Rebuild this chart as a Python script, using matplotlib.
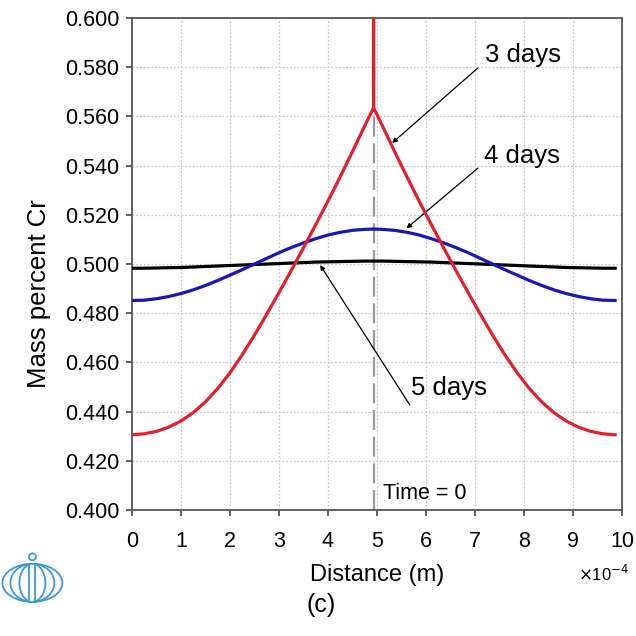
import numpy as np
import matplotlib
matplotlib.use("Agg")
import matplotlib.pyplot as plt
from matplotlib.patches import Ellipse, Circle, Rectangle

plt.rcParams['font.family'] = ['Liberation Sans', 'DejaVu Sans']

# distance in units of 1e-4 m, left half of each profile (curves are symmetric)
x_half = [0.0, 0.25, 0.5, 0.75, 1.0, 1.25, 1.5, 1.75, 2.0, 2.25, 2.5,
          2.75, 3.0, 3.25, 3.5, 3.75, 4.0, 4.25, 4.5, 4.75, 4.93]
red_half = [0.4306, 0.4310, 0.4320, 0.4337, 0.4362, 0.4396, 0.4440, 0.4494, 0.4558, 0.4631, 0.4711,
            0.4796, 0.4884, 0.4974, 0.5066, 0.5160, 0.5256, 0.5355, 0.5457, 0.5562, 0.5635]
blue_half = [0.4852, 0.4853, 0.4859, 0.4868, 0.4880, 0.4895, 0.4913, 0.4933, 0.4955, 0.4977, 0.5000,
             0.5023, 0.5046, 0.5067, 0.5086, 0.5103, 0.5118, 0.5129, 0.5137, 0.5141, 0.5142]
black_half = [0.4983, 0.4983, 0.4984, 0.4985, 0.4986, 0.4988, 0.4990, 0.4992, 0.4994, 0.4996, 0.4998,
              0.5000, 0.5002, 0.5004, 0.5006, 0.5008, 0.5009, 0.5010, 0.5011, 0.5012, 0.5012]
center = 4.93
spike_top = 0.65

def mirror(xs, ys):
    xr = [2 * center - v for v in xs[::-1]][1:]
    return np.array(xs + xr), np.array(ys + ys[::-1][1:])

xb, yb = mirror(x_half, blue_half)
xk, yk = mirror(x_half, black_half)
xr, yr = mirror(x_half, red_half)
# initial spike still visible in the 3 days curve
i = len(x_half) - 1
xr = np.insert(xr, i + 1, [center, center])
yr = np.insert(yr, i + 1, [spike_top, red_half[-1]])

fig = plt.figure(figsize=(6.36, 6.36), dpi=100)
ax = fig.add_axes([0.2075, 0.198, 0.7705, 0.7737])

ax.plot([center, center], [0.40, 0.60], color='#9a9a9a', lw=1.6, dashes=(9, 3), zorder=2)
ax.plot(xk, yk, color='black', lw=2.3, zorder=3)
ax.plot(xb, yb, color='#1818b8', lw=2.3, zorder=3)
ax.plot(xr, yr, color='#e41e2b', lw=2.3, zorder=4)

ax.set_xlim(0, 10)
ax.set_ylim(0.400, 0.600)
ax.set_xticks(range(0, 11))
yt = np.arange(0.40, 0.601, 0.02)
ax.set_yticks(yt)
ax.set_yticklabels([f"{v:.3f}" for v in yt])
ax.grid(True, color='#c8c8c8', linestyle=(0, (1.5, 1.5)), lw=0.9)
ax.tick_params(labelsize=15.5, length=4, width=1.2, color='#444444')
ax.tick_params(axis='y', pad=5)
ax.tick_params(axis='x', pad=11)
for s in ax.spines.values():
    s.set_color('#555555')
    s.set_linewidth(1.3)

ax.set_xlabel("Distance (m)", fontsize=17, labelpad=9)
ax.set_ylabel("Mass percent Cr", fontsize=18.5)
ax.yaxis.set_label_coords(-0.165, 0.44)

arrow = dict(arrowstyle='-|>', lw=0.9, color='black', mutation_scale=7, shrinkA=0, shrinkB=0)
ax.text(7.20, 0.5821, "3 days", fontsize=18.5, ha='left', va='baseline')
ax.annotate("", xy=(5.31, 0.5492), xytext=(7.06, 0.5797), arrowprops=arrow)
ax.text(7.18, 0.5411, "4 days", fontsize=18.5, ha='left', va='baseline')
ax.annotate("", xy=(5.60, 0.5145), xytext=(7.06, 0.5390), arrowprops=arrow)
ax.text(5.69, 0.4467, "5 days", fontsize=18.5, ha='left', va='baseline')
ax.annotate("", xy=(3.84, 0.4996), xytext=(5.67, 0.4427), arrowprops=arrow)
ax.text(5.12, 0.4045, "Time = 0", fontsize=15.5, ha='left', va='baseline')

fig.text(0.989, 0.0975, r"$\times$10$^{-4}$", fontsize=12, ha='right', va='center')
fig.text(0.505, 0.048, "(c)", fontsize=18, ha='center', va='center')

# logo
lg = fig.add_axes([0.0, 0.049, 0.105, 0.0896])
lg.set_xlim(0, 66)
lg.set_ylim(0, 57)
lg.set_aspect('equal')
lg.axis('off')
lc = '#3a9ad9'
lg.add_patch(Ellipse((32, 22), 60, 38, fill=False, ec=lc, lw=1.3))
lg.add_patch(Ellipse((32, 22), 44, 38, fill=False, ec=lc, lw=1.3))
lg.add_patch(Ellipse((32, 22), 26, 38, fill=False, ec=lc, lw=1.3))
lg.add_patch(Rectangle((29, 3), 6, 38, fill=True, fc='white', ec=lc, lw=1.3))
lg.add_patch(Circle((32, 48), 3.5, fill=False, ec=lc, lw=1.3))

fig.savefig("out.png", dpi=100)
